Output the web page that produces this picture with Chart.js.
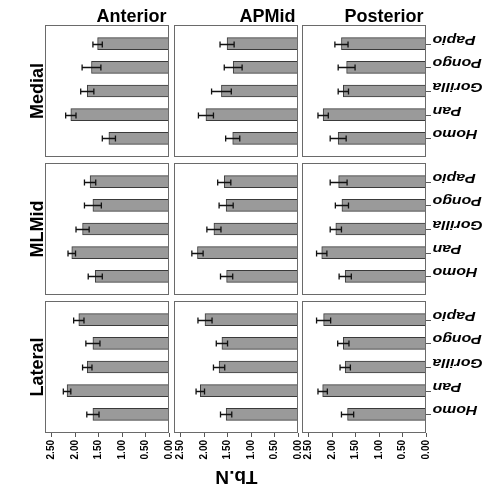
<!DOCTYPE html>
<html><head><meta charset="utf-8">
<script src="https://cdn.jsdelivr.net/npm/chart.js@4/dist/chart.umd.min.js"></script>
<style>
html,body{margin:0;padding:0;background:#fff;}
#wrap{position:relative;width:483px;height:498px;overflow:hidden;background:#fff;}
#wrap canvas{position:absolute;left:0;top:0;}
</style></head><body><div id="wrap"></div>
<script>
// ---- data ----
const categories = ['Homo', 'Pan', 'Gorilla', 'Pongo', 'Papio'];
const rowRegions = ['Medial', 'MLMid', 'Lateral'];
const colRegions = ['Anterior', 'APMid', 'Posterior'];
const xTickValues = [0, 0.5, 1.0, 1.5, 2.0, 2.5];
const axisTitle = 'Tb.N';

const medialAnterior     = [1.28, 2.09, 1.74, 1.65, 1.52];
const medialAnteriorErr  = [0.14, 0.11, 0.14, 0.20, 0.10];
const medialAPMid        = [1.39, 1.96, 1.63, 1.38, 1.51];
const medialAPMidErr     = [0.15, 0.16, 0.21, 0.19, 0.15];
const medialPosterior    = [1.87, 2.19, 1.76, 1.69, 1.80];
const medialPosteriorErr = [0.17, 0.11, 0.11, 0.18, 0.14];

const mlmidAnterior      = [1.57, 2.07, 1.84, 1.62, 1.68];
const mlmidAnteriorErr   = [0.15, 0.08, 0.14, 0.18, 0.12];
const mlmidAPMid         = [1.52, 2.14, 1.79, 1.53, 1.57];
const mlmidAPMidErr      = [0.13, 0.12, 0.15, 0.15, 0.14];
const mlmidPosterior     = [1.72, 2.22, 1.92, 1.79, 1.86];
const mlmidPosteriorErr  = [0.13, 0.11, 0.12, 0.14, 0.18];

const lateralAnterior     = [1.62, 2.17, 1.74, 1.62, 1.92];
const lateralAnteriorErr  = [0.13, 0.08, 0.10, 0.15, 0.11];
const lateralAPMid        = [1.53, 2.08, 1.68, 1.62, 1.98];
const lateralAPMidErr     = [0.12, 0.09, 0.12, 0.12, 0.15];
const lateralPosterior    = [1.67, 2.20, 1.72, 1.76, 2.18];
const lateralPosteriorErr = [0.13, 0.10, 0.11, 0.12, 0.15];

const panelValues = [
  [[medialAnterior, medialAnteriorErr], [medialAPMid, medialAPMidErr], [medialPosterior, medialPosteriorErr]],
  [[mlmidAnterior, mlmidAnteriorErr], [mlmidAPMid, mlmidAPMidErr], [mlmidPosterior, mlmidPosteriorErr]],
  [[lateralAnterior, lateralAnteriorErr], [lateralAPMid, lateralAPMidErr], [lateralPosterior, lateralPosteriorErr]]
];

// ---- layout ----
const W = 483, H = 498;
const colLeft = [45, 174, 302];
const rowTop = [25, 163, 301];
const panelW = 124, panelH = 132;
const xAxisH = 40;
const FONT = '"Liberation Sans", Arial, Helvetica, sans-serif';
Chart.defaults.font.family = FONT;

function makePlugin(r, c, errs) {
  return {
    id: 'panelDecor',
    afterDatasetsDraw(chart) {
      const ctx = chart.ctx;
      const {left, top, right, bottom} = chart.chartArea;
      const xs = chart.scales.x, ys = chart.scales.y;
      const pts = chart.data.datasets[0].data;
      ctx.save();
      // error bars
      ctx.strokeStyle = '#111';
      ctx.lineWidth = 1.3;
      pts.forEach((p, i) => {
        const e = errs[i];
        const y = Math.round(ys.getPixelForValue(p.y)) + 0.5;
        const x1 = xs.getPixelForValue(p.x - e);
        const x2 = xs.getPixelForValue(p.x + e);
        ctx.beginPath();
        ctx.moveTo(x1, y); ctx.lineTo(x2, y);
        ctx.moveTo(x1, y - 3); ctx.lineTo(x1, y + 3);
        ctx.moveTo(x2, y - 3); ctx.lineTo(x2, y + 3);
        ctx.stroke();
      });
      // frame
      ctx.strokeStyle = '#6a6a6a';
      ctx.lineWidth = 1;
      ctx.strokeRect(left + 0.5, top + 0.5, right - left - 1, bottom - top - 1);
      ctx.fillStyle = '#000';
      // column header
      if (r === 0) {
        ctx.font = 'bold 18px ' + FONT;
        ctx.textAlign = 'right';
        ctx.textBaseline = 'alphabetic';
        ctx.fillText(colRegions[c], right - 2.5, 21.5);
      }
      // row label
      if (c === 0) {
        ctx.save();
        ctx.translate(43.3, (top + bottom) / 2);
        ctx.rotate(-Math.PI / 2);
        ctx.font = 'bold 18px ' + FONT;
        ctx.textAlign = 'center';
        ctx.textBaseline = 'alphabetic';
        ctx.fillText(rowRegions[r], 0, 0);
        ctx.restore();
      }
      // category ticks and labels (upside-down)
      if (c === 2) {
        const fs = 13, cap = 0.716 * fs;
        categories.forEach((name, i) => {
          const y = Math.round(ys.getPixelForValue(i)) + 0.5;
          ctx.strokeStyle = '#555';
          ctx.lineWidth = 1;
          ctx.beginPath(); ctx.moveTo(right, y); ctx.lineTo(right + 5, y); ctx.stroke();
          ctx.save();
          ctx.translate(right + 6.5, y - cap + 0.5);
          ctx.rotate(Math.PI);
          ctx.scale(1.22, 1);
          ctx.font = 'italic bold ' + fs + 'px ' + FONT;
          ctx.textAlign = 'right';
          ctx.textBaseline = 'alphabetic';
          ctx.fillText(name, 0, 0);
          ctx.restore();
        });
      }
      // axis title (upside-down)
      if (r === 2 && c === 1) {
        ctx.save();
        ctx.translate((colLeft[0] + colLeft[2] + panelW) / 2 + 1, 471);
        ctx.rotate(Math.PI);
        ctx.font = 'bold 19px ' + FONT;
        ctx.textAlign = 'center';
        ctx.textBaseline = 'alphabetic';
        ctx.fillText(axisTitle, 0, 0);
        ctx.restore();
      }
      ctx.restore();
    }
  };
}

const wrap = document.getElementById('wrap');
for (let r = 0; r < 3; r++) {
  for (let c = 0; c < 3; c++) {
    const [vals, errs] = panelValues[r][c];
    const cv = document.createElement('canvas');
    cv.width = W; cv.height = H;
    cv.style.width = W + 'px'; cv.style.height = H + 'px';
    wrap.appendChild(cv);
    const L = colLeft[c], T = rowTop[r];
    const showX = (r === 2);
    new Chart(cv, {
      type: 'bar',
      data: {
        datasets: [{
          data: vals.map((v, i) => ({x: v, y: i})),
          backgroundColor: '#9a9a9a',
          borderColor: '#3a3a3a',
          borderWidth: 1,
          barThickness: 12
        }]
      },
      options: {
        indexAxis: 'y',
        responsive: false,
        animation: false,
        devicePixelRatio: 1,
        layout: {padding: {left: L, right: W - L - panelW, top: T, bottom: H - T - panelH - (showX ? xAxisH : 0)}},
        plugins: {legend: {display: false}, tooltip: {enabled: false}, title: {display: false}},
        scales: {
          x: {
            type: 'linear',
            reverse: true,
            min: 0,
            max: 2.64,
            offset: false,
            display: showX,
            afterFit: (s) => { s.height = showX ? xAxisH : 0; },
            afterBuildTicks: (s) => { s.ticks = xTickValues.map(v => ({value: v})); },
            ticks: {
              minRotation: 90, maxRotation: 90, autoSkip: false,
              padding: 3,
              color: '#000',
              font: {size: 10, weight: 'bold', family: FONT},
              callback: (v) => Number(v).toFixed(2)
            },
            grid: {drawOnChartArea: false, drawTicks: true, tickLength: 4, color: '#555', lineWidth: 1, offset: false},
            border: {display: false}
          },
          y: {type: 'linear', min: -0.785, max: 4.785, offset: false, grid: {offset: false}, display: false}
        }
      },
      plugins: [makePlugin(r, c, errs)]
    });
  }
}
</script>
</body></html>
